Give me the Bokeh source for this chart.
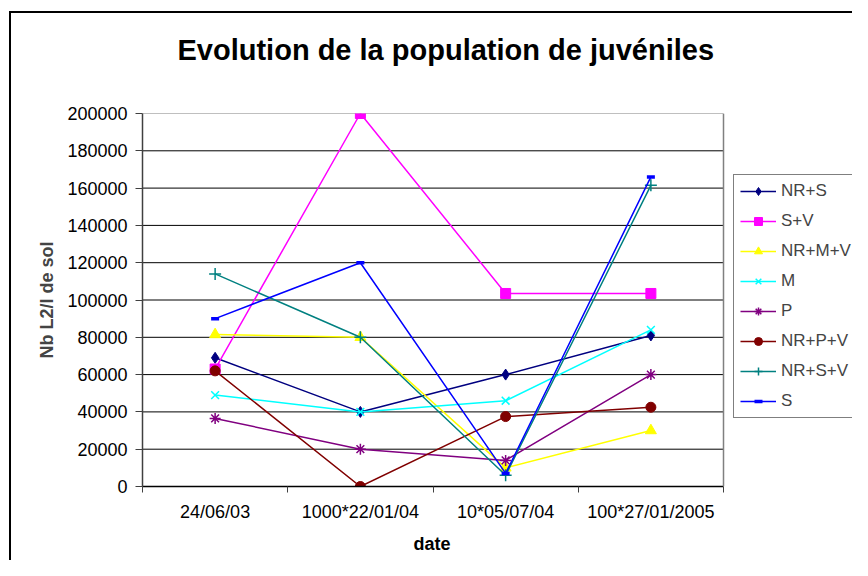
from bokeh.plotting import figure
from bokeh.embed import file_html
from bokeh.resources import INLINE
from bokeh.models import (Range1d, FixedTicker, NumeralTickFormatter, Legend, LegendItem,
                          ColumnDataSource, InlineStyleSheet, Span, Title)

# ---- data ----
dates = ["24/06/03", "1000*22/01/04", "10*05/07/04", "100*27/01/2005"]
y_ticks = [0, 20000, 40000, 60000, 80000, 100000, 120000, 140000, 160000, 180000, 200000]

nr_s = [69000, 40000, 60000, 81000]
s_v = [63000, 200000, 103500, 103500]
nr_m_v = [81500, 80000, 10000, 30000]
m = [49000, 40000, 46000, 84000]
p_ = [36500, 20000, 14000, 60000]
nr_p_v = [62000, 0, 37500, 42500]
nr_s_v = [114000, 80000, 6000, 161500]
s = [90000, 120000, 7000, 166000]

series_names = ["NR+S", "S+V", "NR+M+V", "M", "P", "NR+P+V", "NR+S+V", "S"]
series_values = [nr_s, s_v, nr_m_v, m, p_, nr_p_v, nr_s_v, s]
series_colors = ["#000080", "#FF00FF", "#FFFF00", "#00FFFF", "#800080", "#800000", "#008080", "#0000FF"]
series_markers = ["diamond", "square", "triangle", "x", "asterisk", "circle", "cross", "dash"]
series_sizes = [11, 10, 11, 11, 11, 10, 12, 8]

FONT = "Liberation Sans"

n = len(dates)
xs = [i + 0.5 for i in range(n)]

# layout (pixels)
FRAME_LEFT, FRAME_TOP, AREA_RIGHT, FRAME_BOTTOM, W, H = 142, 113, 723, 486, 852, 560
x_end = n * (W - FRAME_LEFT) / (AREA_RIGHT - FRAME_LEFT)

p = figure(width=W, height=H, output_backend="svg", toolbar_location=None, title=None,
           x_range=Range1d(0, x_end), y_range=Range1d(0, 200000),
           min_border_left=FRAME_LEFT, min_border_right=0, min_border_top=FRAME_TOP,
           min_border_bottom=H - FRAME_BOTTOM)

# spacer between the frame and the title, then the title itself
spacer = Title(text=" ", text_font=FONT, text_font_size="2px", standoff=13)
main_title = Title(text="Evolution de la population de juvéniles", text_font=FONT,
                   text_font_size="29px", text_font_style="bold", text_color="black",
                   align="left", offset=35, standoff=61)
p.add_layout(spacer, "above")
p.add_layout(main_title, "above")

p.background_fill_color = "white"
p.border_fill_color = "white"
p.outline_line_color = None

# y axis
p.yaxis.ticker = FixedTicker(ticks=y_ticks)
p.yaxis.formatter = NumeralTickFormatter(format="0")
p.yaxis.major_label_text_font = FONT
p.yaxis.major_label_text_font_size = "18px"
p.yaxis.major_label_text_color = "black"
p.yaxis.major_tick_out = 7
p.yaxis.major_tick_in = 0
p.yaxis.minor_tick_line_color = None
p.yaxis.major_label_standoff = 8
p.yaxis.axis_line_color = "#404040"
p.yaxis.axis_line_width = 1.5
p.yaxis.major_tick_line_color = "#404040"
p.yaxis.axis_label = "Nb L2/l de sol"
p.yaxis.axis_label_text_font = FONT
p.yaxis.axis_label_text_font_size = "18px"
p.yaxis.axis_label_text_font_style = "bold"
p.yaxis.axis_label_standoff = 7

# x axis
p.xaxis.ticker = FixedTicker(ticks=xs, minor_ticks=list(range(n + 1)))
p.xaxis.bounds = (0, n)
p.xaxis.major_label_overrides = {x: d for x, d in zip(xs, dates)}
p.xaxis.major_tick_out = 0
p.xaxis.major_tick_in = 0
p.xaxis.minor_tick_out = 6
p.xaxis.minor_tick_in = 0
p.xaxis.minor_tick_line_color = "#404040"
p.xaxis.major_label_text_font = FONT
p.xaxis.major_label_text_font_size = "18px"
p.xaxis.major_label_text_color = "black"
p.xaxis.major_label_standoff = 9
p.xaxis.axis_line_color = "black"
p.xaxis.axis_line_width = 1.5

xtitle = Title(text="date", text_font=FONT, text_font_size="18px", text_font_style="bold",
               text_color="black", align="left", offset=271, standoff=14)
p.add_layout(xtitle, "below")

p.xgrid.grid_line_color = None
p.ygrid.grid_line_color = None

# horizontal gridlines limited to the plot area
grid_y = y_ticks[1:]
p.segment(x0=[0] * len(grid_y), x1=[n] * len(grid_y), y0=grid_y, y1=grid_y,
          line_color=["black"] * (len(grid_y) - 1) + ["#808080"], line_width=1)
# right border of the plot area
p.add_layout(Span(location=n, dimension="height", line_color="#808080", line_width=1.5))

items = []
for name, vals, col, mk, sz in zip(series_names, series_values, series_colors, series_markers, series_sizes):
    src = ColumnDataSource(dict(x=xs, y=vals))
    ln = p.line("x", "y", source=src, line_color=col, line_width=1.5)
    if mk == "dash":
        sc = p.scatter("x", "y", source=src, marker=mk, size=sz, line_color=col, line_width=3.5)
    elif mk in ("x", "asterisk", "cross"):
        sc = p.scatter("x", "y", source=src, marker=mk, size=sz, line_color=col, line_width=1.5)
    else:
        sc = p.scatter("x", "y", source=src, marker=mk, size=sz, fill_color=col, line_color=col)
    items.append(LegendItem(label=name, renderers=[ln, sc]))

legend = Legend(items=items, location=(733 - FRAME_LEFT, FRAME_BOTTOM - 418))
legend.label_text_font = FONT
legend.label_text_font_size = "17px"
legend.glyph_width = 36
legend.glyph_height = 20
legend.label_height = 20
legend.spacing = 10
legend.padding = 6
legend.margin = 0
legend.label_standoff = 5
legend.border_line_color = "black"
legend.border_line_width = 1
legend.background_fill_alpha = 1
p.add_layout(legend, "center")

p.stylesheets = [InlineStyleSheet(css=(
    ":host::after { content: ''; position: absolute; left: 9px; top: 11px; right: 0; bottom: 0;"
    " border-left: 2px solid black; border-top: 2px solid black; pointer-events: none; z-index: 10; }"
))]

open("out.html", "w").write(file_html(p, INLINE))
